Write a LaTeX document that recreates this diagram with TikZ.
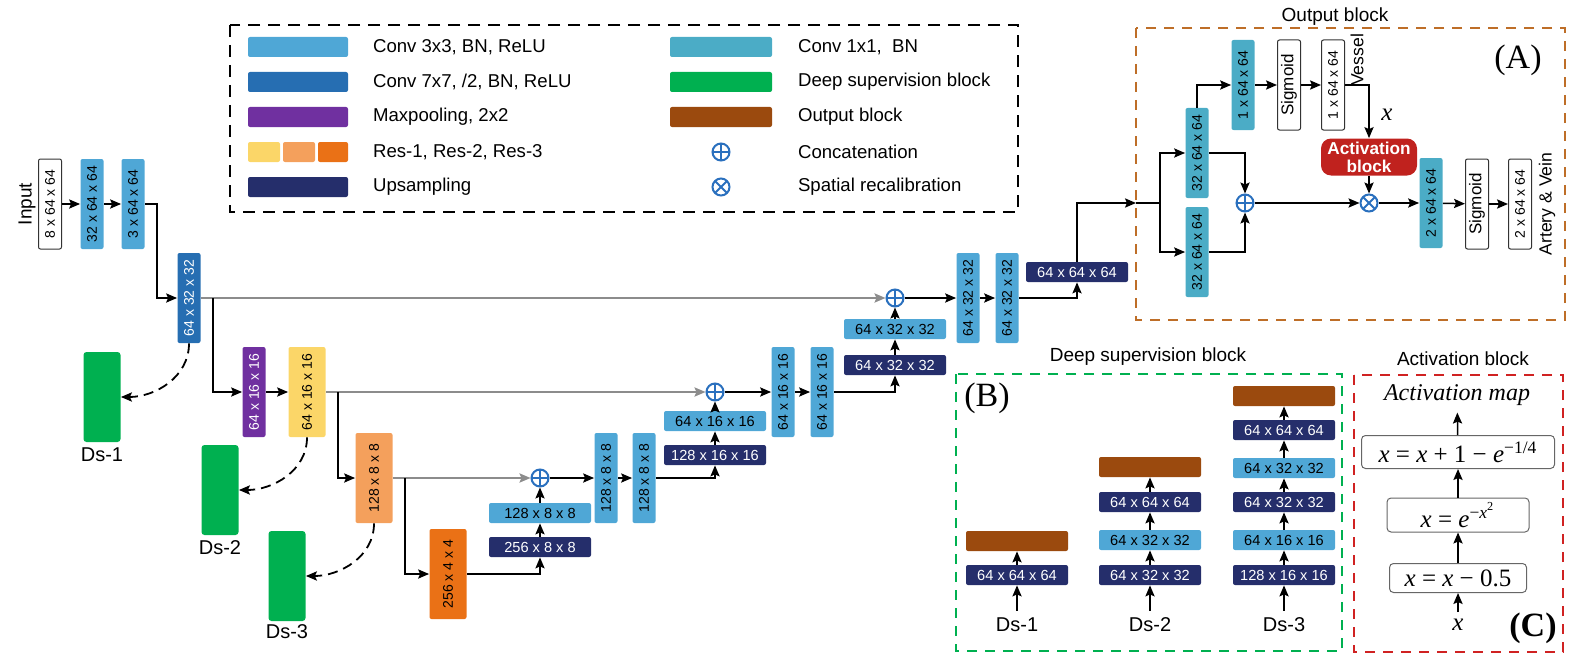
\documentclass[tikz,border=0pt]{standalone}
\usepackage{fontspec}
\setmainfont{Liberation Sans}
\newfontfamily\timesfont{Liberation Serif}
\usepackage{graphicx}
\usepackage{tikz}
\usetikzlibrary{arrows}
\usetikzlibrary{arrows.meta}

\definecolor{convc}{RGB}{79,167,214}
\definecolor{conva}{RGB}{75,172,198}
\definecolor{convg}{RGB}{38,110,178}
\definecolor{poolc}{RGB}{112,48,160}
\definecolor{resa}{RGB}{251,214,104}
\definecolor{resb}{RGB}{244,160,92}
\definecolor{resc}{RGB}{234,113,22}
\definecolor{upc}{RGB}{37,46,107}
\definecolor{dsc}{RGB}{0,176,80}
\definecolor{outc}{RGB}{155,74,14}
\definecolor{actc}{RGB}{192,34,30}
\definecolor{catc}{RGB}{42,112,190}
\definecolor{obord}{RGB}{190,110,40}
\definecolor{dbord}{RGB}{0,176,80}
\definecolor{abord}{RGB}{208,34,34}

\newcommand{\vlab}[1]{\rotatebox{90}{#1}}

\begin{document}
\begin{tikzpicture}[x=0.5pt,y=-0.5pt,>={Stealth[length=5.5pt,width=4.6pt,inset=1pt]},
        blk/.style={rounded corners=1pt, inner sep=0pt, font=\fontsize{7.3}{8}\selectfont},
        vb/.style={blk, minimum width=11.5pt, minimum height=45pt, font=\fontsize{7}{8}\selectfont},
        wvb/.style={vb, minimum width=18.5pt},
        hb/.style={blk, minimum width=51pt, minimum height=10pt},
        cv/.style={fill=convc},
        cvone/.style={fill=conva},
        cvsev/.style={fill=convg, text=white},
        mpool/.style={fill=poolc, text=white},
        upl/.style={fill=upc, text=white},
        rsa/.style={fill=resa}, rsb/.style={fill=resb}, rsc/.style={fill=resc},
        wht/.style={draw=black!80, fill=white, line width=0.5pt},
        dsb/.style={fill=dsc, rounded corners=1.5pt, minimum width=18.5pt, minimum height=45pt},
        outb/.style={blk, fill=outc, minimum width=51pt, minimum height=10pt},
        cat/.style={circle, draw=catc, line width=1pt, minimum size=8.5pt, inner sep=0pt,
            path picture={\draw[catc, line width=1pt] (path picture bounding box.north) -- (path picture bounding box.south)
                (path picture bounding box.west) -- (path picture bounding box.east);}},
        mul/.style={circle, draw=catc, line width=1pt, minimum size=8.5pt, inner sep=0pt,
            path picture={\draw[catc, line width=1pt] (path picture bounding box.north west) -- (path picture bounding box.south east)
                (path picture bounding box.north east) -- (path picture bounding box.south west);}},
        ln/.style={->, line width=0.75pt},
        skipln/.style={->, draw=black!45, line width=1pt},
        dsln/.style={->, line width=0.9pt, dash pattern=on 5pt off 3pt},
        lbl/.style={font=\fontsize{9.3}{11}\selectfont},
        ttl/.style={font=\fontsize{9.5}{11}\selectfont},
        dslbl/.style={font=\fontsize{10}{11}\selectfont},
        sml/.style={font=\fontsize{8.8}{10}\selectfont},
        eqb/.style={draw=black!60, fill=white, rounded corners=2pt, line width=0.5pt, inner sep=0pt,
            font=\timesfont\fontsize{12.5}{14}\selectfont}
    ]
        \useasboundingbox (0,0) rectangle (1578,658);

        % legend
        \draw[line width=1.1pt, dash pattern=on 6pt off 4pt] (230,25) rectangle (1018,212);
        \node[blk, cv, minimum width=50pt, minimum height=10pt] (k1) at (298,47) {};
        \node[blk, cvsev, minimum width=50pt, minimum height=10pt] (k2) at (298,82) {};
        \node[blk, mpool, minimum width=50pt, minimum height=10pt] (k3) at (298,117) {};
        \node[blk, rsa, minimum width=16pt, minimum height=10pt] (k4a) at (264,152) {};
        \node[blk, rsb, minimum width=16pt, minimum height=10pt] (k4b) at (299,152) {};
        \node[blk, rsc, minimum width=15pt, minimum height=10pt] (k4c) at (333,152) {};
        \node[blk, upl, minimum width=50pt, minimum height=10pt] (k5) at (298,187) {};
        \node[lbl, anchor=west] (t1) at (366,47) {Conv 3x3, BN, ReLU};
        \node[lbl, anchor=west] (t2) at (366,82) {Conv 7x7, /2, BN, ReLU};
        \node[lbl, anchor=west] (t3) at (366,117) {Maxpooling, 2x2};
        \node[lbl, anchor=west] (t4) at (366,152) {Res-1, Res-2, Res-3};
        \node[lbl, anchor=west] (t5) at (366,187) {Upsampling};
        \node[blk, cvone, minimum width=51pt, minimum height=10pt] (k6) at (721,47) {};
        \node[blk, fill=dsc, minimum width=51pt, minimum height=10pt] (k7) at (721,82) {};
        \node[outb] (k8) at (721,117) {};
        \node[cat] (k9) at (721,152) {};
        \node[mul] (k10) at (721,187) {};
        \node[lbl, anchor=west] (t6) at (791,47) {Conv 1x1,\ \ BN};
        \node[lbl, anchor=west] (t7) at (791,82) {Deep supervision block};
        \node[lbl, anchor=west] (t8) at (791,117) {Output block};
        \node[lbl, anchor=west] (t9) at (791,152) {Concatenation};
        \node[lbl, anchor=west] (t10) at (791,187) {Spatial recalibration};

        % encoder
        \node[rotate=90, font=\fontsize{9.5}{10}\selectfont] (lin) at (27,204) {Input};
        \node[vb, wht] (inp) at (50,204) {\vlab{8 x 64 x 64}};
        \node[vb, cv] (e1) at (92,204) {\vlab{32 x 64 x 64}};
        \node[vb, cv] (e2) at (133,204) {\vlab{3 x 64 x 64}};
        \node[vb, cvsev] (e3) at (189,298) {\vlab{64 x 32 x 32}};
        \node[vb, mpool] (mp) at (254,392) {\vlab{64 x 16 x 16}};
        \node[wvb, rsa] (r1) at (307,392) {\vlab{64 x 16 x 16}};
        \node[wvb, rsb] (r2) at (374,478) {\vlab{128 x 8 x 8}};
        \node[wvb, rsc] (r3) at (448,574) {\vlab{256 x 4 x 4}};

        % decoder
        \node[hb, upl] (u3) at (540,547) {256 x 8 x 8};
        \node[hb, cv] (d3c) at (540,513) {128 x 8 x 8};
        \node[cat] (p3) at (540,478) {};
        \node[vb, cv] (d3a) at (606,478) {\vlab{128 x 8 x 8}};
        \node[vb, cv] (d3b) at (644,478) {\vlab{128 x 8 x 8}};
        \node[hb, upl] (u2) at (715,455) {128 x 16 x 16};
        \node[hb, cv] (d2c) at (715,421) {64 x 16 x 16};
        \node[cat] (p2) at (715,392) {};
        \node[vb, cv] (d2a) at (783,392) {\vlab{64 x 16 x 16}};
        \node[vb, cv] (d2b) at (822,392) {\vlab{64 x 16 x 16}};
        \node[hb, upl] (u1) at (895,365) {64 x 32 x 32};
        \node[hb, cv] (d1c) at (895,329) {64 x 32 x 32};
        \node[cat] (p1) at (895,298) {};
        \node[vb, cv] (d1a) at (968,298) {\vlab{64 x 32 x 32}};
        \node[vb, cv] (d1b) at (1007,298) {\vlab{64 x 32 x 32}};
        \node[hb, upl] (u0) at (1077,272) {64 x 64 x 64};

        % deep supervision heads
        \node[dsb] (ds1) at (102,397) {};
        \node[dslbl] (l1) at (102,455) {Ds-1};
        \node[dsb] (ds2) at (220,490) {};
        \node[dslbl] (l2) at (220,548) {Ds-2};
        \node[dsb] (ds3) at (287,576) {};
        \node[dslbl] (l3) at (287,632) {Ds-3};

        \draw[ln] (inp) -- (e1);
        \draw[ln] (e1) -- (e2);
        \draw[ln] (e2.east) -- ++(12,0) |- (e3.west);
        \draw[skipln] (e3.east) -- (p1.west);
        \draw[ln] ([xshift=6pt]e3.east) |- (mp.west);
        \draw[ln] (mp) -- (r1);
        \draw[skipln] (r1.east) -- (p2.west);
        \draw[ln] ([xshift=6pt]r1.east) |- (r2.west);
        \draw[skipln] (r2.east) -- (p3.west);
        \draw[ln] ([xshift=6pt]r2.east) |- (r3.west);
        \draw[ln] (r3.east) -| (u3.south);
        \draw[ln] (u3) -- (d3c);
        \draw[ln] (d3c) -- (p3);
        \draw[ln] (p3) -- (d3a);
        \draw[ln] (d3a) -- (d3b);
        \draw[ln] (d3b.east) -| (u2.south);
        \draw[ln] (u2) -- (d2c);
        \draw[ln] (d2c) -- (p2);
        \draw[ln] (p2) -- (d2a);
        \draw[ln] (d2a) -- (d2b);
        \draw[ln] (d2b.east) -| (u1.south);
        \draw[ln] (u1) -- (d1c);
        \draw[ln] (d1c) -- (p1);
        \draw[ln] (p1) -- (d1a);
        \draw[ln] (d1a) -- (d1b);
        \draw[ln] (d1b.east) -| (u0.south);
        \draw[dsln] (e3.south) to[out=-90, in=0] (ds1.east);
        \draw[dsln] (r1.south) to[out=-90, in=0] (ds2.east);
        \draw[dsln] (r2.south) to[out=-90, in=0] (ds3.east);

        % output block
        \draw[obord, line width=1.1pt, dash pattern=on 5pt off 4pt] (1136,28) rectangle (1565,320);
        \node[ttl] (otl) at (1335,17) {Output block};
        \node[font=\timesfont\fontsize{17}{19}\selectfont] (ta) at (1518,60) {(A)};
        \coordinate (obin) at (1136,203);
        \coordinate (osplit) at (1160,203);
        \node[vb, cvone] (oa) at (1197,153) {\vlab{32 x 64 x 64}};
        \node[vb, cvone] (ob) at (1197,252) {\vlab{32 x 64 x 64}};
        \node[cat] (op) at (1245,203) {};
        \node[vb, cvone] (ov1) at (1243,85) {\vlab{1 x 64 x 64}};
        \node[vb, wht, font=\fontsize{8.5}{9}\selectfont] (os1) at (1289,85) {\vlab{Sigmoid}};
        \node[vb, wht] (ov2) at (1333,85) {\vlab{1 x 64 x 64}};
        \node[sml, rotate=90] (ves) at (1357,60) {Vessel};
        \node[blk, fill=actc, text=white, rounded corners=5pt, minimum width=48pt, minimum height=18.5pt,
            align=center, font=\bfseries\fontsize{8.6}{9}\selectfont] (act) at (1369,157) {Activation\\block};
        \node[font=\timesfont\itshape\fontsize{12.5}{14}\selectfont] (xl) at (1387,115) {x};
        \node[mul] (ox) at (1369,203) {};
        \node[vb, cvone] (oc) at (1431,203) {\vlab{2 x 64 x 64}};
        \node[vb, wht, font=\fontsize{8.5}{9}\selectfont] (os2) at (1477,204) {\vlab{Sigmoid}};
        \node[vb, wht] (oo) at (1520,204) {\vlab{2 x 64 x 64}};
        \node[sml, rotate=90] (art) at (1547,204) {Artery \& Vein};

        \draw[ln] (u0.north) |- (obin);
        \draw[line width=0.75pt] (obin) -- (osplit);
        \draw[ln] (osplit) |- (oa.west);
        \draw[ln] (osplit) |- (ob.west);
        \draw[ln] (oa.east) -| (op.north);
        \draw[ln] (ob.east) -| (op.south);
        \draw[ln] (oa.north) |- (ov1.west);
        \draw[ln] (ov1) -- (os1);
        \draw[ln] (os1) -- (ov2);
        \draw[ln] (ov2.east) -| (act.north);
        \draw[ln] (act) -- (ox);
        \draw[ln] (op) -- (ox);
        \draw[ln] (ox) -- (oc);
        \draw[ln] (oc) -- (os2);
        \draw[ln] (os2) -- (oo);

        % deep supervision block
        \draw[dbord, line width=1.1pt, dash pattern=on 5pt off 4pt] (956,374) rectangle (1342,651);
        \node[ttl] (dtl) at (1148,357) {Deep supervision block};
        \node[font=\timesfont\fontsize{17}{19}\selectfont] (tb) at (987,398) {(B)};
        \node[outb] (ao) at (1017,541) {};
        \node[hb, upl] (aa) at (1017,575) {64 x 64 x 64};
        \node[dslbl] (al) at (1017,625) {Ds-1};
        \node[outb] (bo) at (1150,467) {};
        \node[hb, upl] (bc) at (1150,502) {64 x 64 x 64};
        \node[hb, cv] (bb) at (1150,540) {64 x 32 x 32};
        \node[hb, upl] (ba) at (1150,575) {64 x 32 x 32};
        \node[dslbl] (bl) at (1150,625) {Ds-2};
        \node[outb] (co) at (1284,396) {};
        \node[hb, upl] (ce) at (1284,430) {64 x 64 x 64};
        \node[hb, cv] (cd) at (1284,468) {64 x 32 x 32};
        \node[hb, upl] (cc) at (1284,502) {64 x 32 x 32};
        \node[hb, cv] (cb) at (1284,540) {64 x 16 x 16};
        \node[hb, upl] (ca) at (1284,575) {128 x 16 x 16};
        \node[dslbl] (cl) at (1284,625) {Ds-3};

        \draw[ln] (al) -- (aa);
        \draw[ln] (aa) -- (ao);
        \draw[ln] (bl) -- (ba);
        \draw[ln] (ba) -- (bb);
        \draw[ln] (bb) -- (bc);
        \draw[ln] (bc) -- (bo);
        \draw[ln] (cl) -- (ca);
        \draw[ln] (ca) -- (cb);
        \draw[ln] (cb) -- (cc);
        \draw[ln] (cc) -- (cd);
        \draw[ln] (cd) -- (ce);
        \draw[ln] (ce) -- (co);

        % activation block
        \draw[abord, line width=1.1pt, dash pattern=on 5pt off 4pt] (1354,375) rectangle (1563,652);
        \node[ttl] (atl) at (1463,359) {Activation block};
        \node[font=\timesfont\itshape\fontsize{12}{14}\selectfont] (am) at (1457,395) {Activation map};
        \node[eqb, minimum width=96.5pt, minimum height=16.5pt] (f1) at (1458,452)
            {\textit{x} = \textit{x} + 1 − \textit{e}\textsuperscript{−1/4}};
        \node[eqb, minimum width=71pt, minimum height=17pt] (f2) at (1458,515)
            {\textit{x} = \textit{e}\textsuperscript{−\textit{x}\textsuperscript{2}}};
        \node[eqb, minimum width=68.5pt, minimum height=14.5pt] (f3) at (1458,578)
            {\textit{x} = \textit{x} − 0.5};
        \node[font=\timesfont\itshape\fontsize{12.5}{14}\selectfont] (xin) at (1458,625) {x};
        \node[font=\timesfont\bfseries\fontsize{17}{19}\selectfont] (tc) at (1533,628) {(C)};

        \draw[ln] (xin) -- (f3);
        \draw[ln] (f3) -- (f2);
        \draw[ln] (f2) -- (f1);
        \draw[ln] (f1) -- (am);
    \end{tikzpicture}
\end{document}
